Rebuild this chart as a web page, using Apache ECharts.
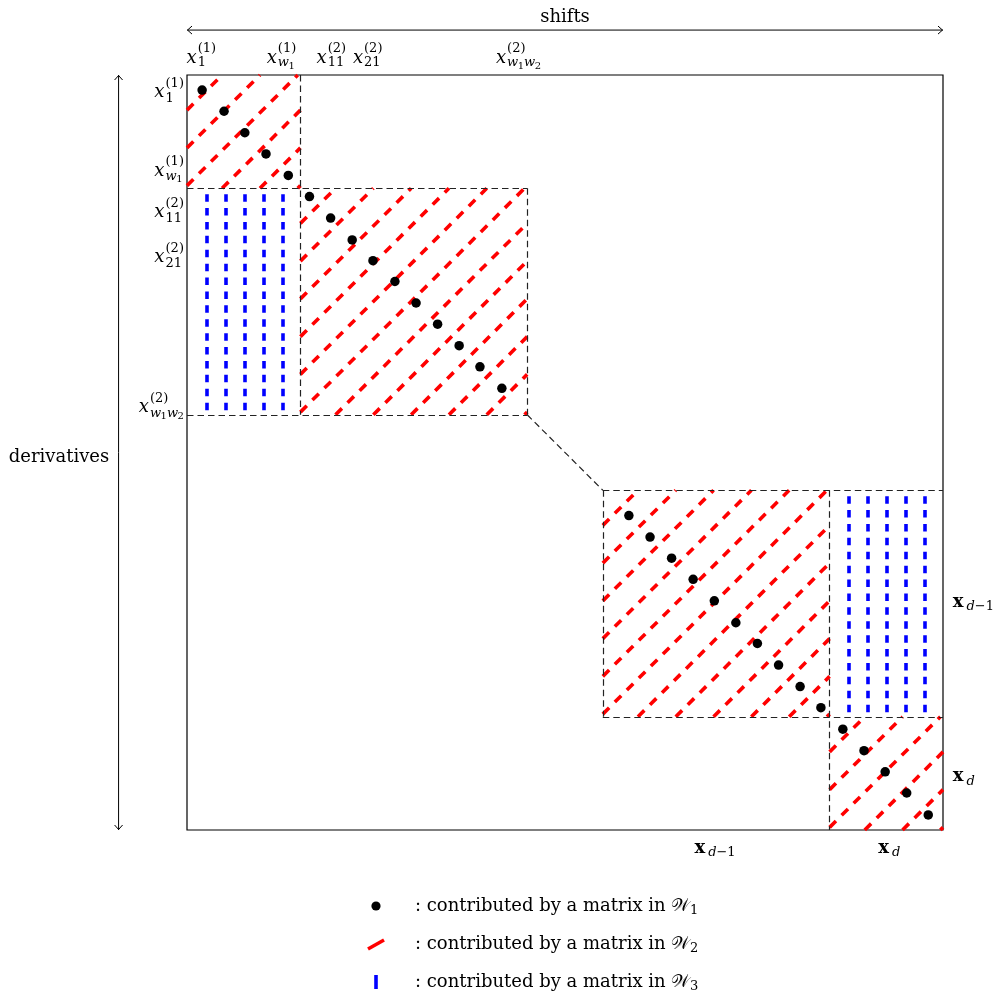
<!DOCTYPE html>
<html><head><meta charset="utf-8">
<script src="https://cdn.jsdelivr.net/npm/echarts@6/dist/echarts.min.js"></script>
<style>html,body{margin:0;padding:0;background:#fff}#c{width:1000px;height:996px}</style>
</head><body><div id="c"></div>
<script>
// ===== data (matrix units: 20 x 20, y up) =====
const dotX = [0.40,0.98,1.53,2.09,2.68,3.24,3.80,4.37,4.92,5.50,6.06,6.63,7.20,7.75,8.33,
              11.69,12.25,12.82,13.39,13.95,14.52,15.09,15.65,16.22,16.77,17.35,17.91,18.47,19.04,19.61];
const dotY = [19.60,19.04,18.47,17.91,17.34,16.78,16.21,15.63,15.08,14.53,13.96,13.40,12.83,12.27,11.70,
              8.33,7.76,7.20,6.64,6.07,5.49,4.94,4.37,3.80,3.24,2.67,2.10,1.54,0.98,0.40];
// red hatched blocks [x0, y0, x1, y1]
const redBlocks = [[0,17,3,20],[3,11,9,17],[11,3,17,9],[17,0,20,3]];
// blue dashed columns
const blueColX = [0.52,1.02,1.52,2.02,2.52,17.51,18.01,18.51,19.01,19.51];
const blueColY0 = [11,11,11,11,11,3,3,3,3,3];
const blueColY1 = [17,17,17,17,17,9,9,9,9,9];
// black dashed block borders
const borderSegs = [
  [[3,20],[3,11]], [[0,17],[9,17]], [[9,17],[9,11]], [[0,11],[9,11]],
  [[9,11],[11,9]],
  [[11,9],[20,9]], [[11,9],[11,3]], [[17,9],[17,0]], [[11,3],[20,3]]
];
// tick labels
const topTickPos = [0.38, 2.50, 3.82, 4.78, 8.77];
const leftTickPos = [19.54, 17.46, 16.36, 15.17, 11.20];
const tickSup = ['(1)','(1)','(2)','(2)','(2)'];
const tickSub = ['1','w1','11','21','w1w2'];
const rightTickPos = [6.04, 1.41];
const bottomTickPos = [13.97, 18.58];
const blockSub = ['d\u22121','d'];
const axisTitles = ['shifts','derivatives'];
const legendTexts = [': contributed by a matrix in \u{1D4B2}', ': contributed by a matrix in \u{1D4B2}', ': contributed by a matrix in \u{1D4B2}'];
const legendSubs = ['1','2','3'];

// ===== text helpers (approximate DejaVu Serif advance widths, em) =====
const FAMILY = 'DejaVu Serif';
const KINDS = {
  base:{fontSize:18, fontStyle:'italic'},
  bold:{fontSize:18, fontWeight:'bold'},
  text:{fontSize:18},
  r:{fontSize:13},
  i:{fontSize:13, fontStyle:'italic'},
  s:{fontSize:10}
};
const ADV = {'(':0.391, ')':0.391, '\u2212':0.838, ' ':0.318, ':':0.337};
const ADV_IT = {'x':0.565, 'w':0.82, 'd':0.64};
const ADV_BD = {'x':0.70};
function tw(t,k){
  const s=KINDS[k]; let w=0;
  for (const ch of t){
    let a;
    if (s.fontWeight==='bold' && ADV_BD[ch]!=null) a=ADV_BD[ch];
    else if (s.fontStyle==='italic' && ADV_IT[ch]!=null) a=ADV_IT[ch];
    else if (/[0-9]/.test(ch)) a=0.636;
    else a=(ADV[ch]!=null?ADV[ch]:0.6);
    w+=a*s.fontSize;
  }
  return w;
}
function textEl(t,k,x,y,align){
  const st=Object.assign({text:t, fontFamily:FAMILY, fill:'#000', align:align||'left', verticalAlign:'middle'}, KINDS[k]);
  return {type:'text', x:x, y:y, silent:true, z2:10, style:st};
}
function parseSub(s){
  const out=[];
  for(let k=0;k<s.length;k++){
    const ch=s[k]; let kind;
    if(/[a-z]/.test(ch)) kind='i';
    else if(/[0-9]/.test(ch) && k>0 && /[a-z]/.test(s[k-1])) kind='s';
    else kind='r';
    out.push([ch,kind]);
  }
  return out;
}
function mathLabel(ax, cy, mode, baseKind, sup, sub, subDy){
  const els=[];
  const wb=tw('x',baseKind);
  const toks=parseSub(sub);
  let wsub=0; toks.forEach(t=>wsub+=tw(t[0],t[1]));
  const wsup=sup?tw(sup,'r'):0;
  const total=wb+1+Math.max(wsup,wsub);
  const left = mode==='center'? ax-total/2 : (mode==='right'? ax-total : ax);
  els.push(textEl('x',baseKind,left,cy));
  if(sup) els.push(textEl(sup,'r',left+wb+1,cy-9));
  let xx=left+wb+1;
  toks.forEach(t=>{
    els.push(textEl(t[0],t[1],xx,cy+(subDy||6)+(t[1]==='s'?3:0)));
    xx+=tw(t[0],t[1]);
  });
  return els;
}

// label specs anchored in matrix coordinates
const labelAnchors = [], labelSpecs = [];
topTickPos.forEach((v,i)=>{ labelAnchors.push([v,20.45]); labelSpecs.push({mode:'center',base:'base',sup:tickSup[i],sub:tickSub[i],dy:5}); });
leftTickPos.forEach((v,i)=>{ labelAnchors.push([-0.08,v]); labelSpecs.push({mode:'right',base:'base',sup:tickSup[i],sub:tickSub[i],dy:6}); });
rightTickPos.forEach((v,i)=>{ labelAnchors.push([20.26,v]); labelSpecs.push({mode:'left',base:'bold',sup:null,sub:blockSub[i],dy:5}); });
bottomTickPos.forEach((v,i)=>{ labelAnchors.push([v,-0.48]); labelSpecs.push({mode:'center',base:'bold',sup:null,sub:blockSub[i],dy:5}); });
labelAnchors.push([10,21.52]); labelSpecs.push({plain:axisTitles[0]});
labelAnchors.push([-3.386,9.868]); labelSpecs.push({plain:axisTitles[1]});

// ===== chart =====
const chart = echarts.init(document.getElementById('c'), null, {renderer:'canvas'});
const HATCH_OFFSET = -0.07;

chart.setOption({
  animation: false,
  textStyle: {fontFamily: FAMILY},
  grid: {left:187, top:75, width:756, height:755, show:true, borderColor:'#000', borderWidth:1.2, backgroundColor:'rgba(0,0,0,0)'},
  xAxis: {type:'value', min:0, max:20, show:false},
  yAxis: {type:'value', min:0, max:20, show:false},
  series: [
    {
      type:'custom', name:'W2', coordinateSystem:'cartesian2d', silent:true, z:2, clip:false,
      data: redBlocks, encode:{x:[0,2], y:[1,3]},
      renderItem: function(params, api){
        const x0=api.value(0), y0=api.value(1), x1=api.value(2), y1=api.value(3);
        const children=[];
        for (let n=Math.floor(x0-y1)-1; n<=Math.ceil(x1-y0)+1; n++){
          const c=n+HATCH_OFFSET;
          const ya=Math.max(y0, x0-c), yb=Math.min(y1, x1-c);
          if (yb-ya < 0.03) continue;
          const p=api.coord([ya+c, ya]), q=api.coord([yb+c, yb]);
          children.push({type:'line', shape:{x1:p[0],y1:p[1],x2:q[0],y2:q[1]},
            style:{stroke:'#ff0000', lineWidth:3.6, lineDash:[9,8], lineCap:'butt'}});
        }
        return {type:'group', children};
      }
    },
    {
      type:'lines', name:'W3', coordinateSystem:'cartesian2d', silent:true, z:2,
      data: blueColX.map((x,i)=>({coords:[[x, blueColY1[i]],[x, blueColY0[i]]]})),
      lineStyle:{color:'#0000ff', width:3.6, type:[7.5,6.4], dashOffset:8, opacity:1, curveness:0}
    },
    {
      type:'lines', name:'borders', coordinateSystem:'cartesian2d', silent:true, z:3,
      data: borderSegs.map(s=>({coords:s})),
      lineStyle:{color:'#222', width:1.2, type:[6.5,4], opacity:1, curveness:0}
    },
    {
      type:'scatter', name:'W1', silent:true, z:5,
      data: dotX.map((x,i)=>[x, dotY[i]]),
      symbol:'circle', symbolSize:9.5, itemStyle:{color:'#000', opacity:1}
    },
    {
      type:'custom', name:'labels', coordinateSystem:'cartesian2d', silent:true, z:10, clip:false,
      data: labelAnchors, encode:{x:0, y:1},
      renderItem: function(params, api){
        const s=labelSpecs[params.dataIndex];
        const p=api.coord([api.value(0), api.value(1)]);
        const children = s.plain ? [textEl(s.plain,'text',p[0],p[1],'center')]
                                 : mathLabel(p[0],p[1],s.mode,s.base,s.sup,s.sub,s.dy);
        return {type:'group', children};
      }
    }
  ]
});

const P = (x,y)=>chart.convertToPixel({gridIndex:0},[x,y]);
const g=[];
// axis arrows
const a0=P(0,21.19), a1=P(20,21.19);
g.push({type:'line', silent:true, shape:{x1:a0[0],y1:a0[1],x2:a1[0],y2:a1[1]}, style:{stroke:'#000',lineWidth:1}});
g.push({type:'polyline', silent:true, shape:{points:[[a0[0]+5,a0[1]-4],[a0[0]+0.5,a0[1]],[a0[0]+5,a0[1]+4]]}, style:{stroke:'#000',lineWidth:1,fill:null}});
g.push({type:'polyline', silent:true, shape:{points:[[a1[0]-5,a1[1]-4],[a1[0]-0.5,a1[1]],[a1[0]-5,a1[1]+4]]}, style:{stroke:'#000',lineWidth:1,fill:null}});
const b0=P(-1.81,20), b1=P(-1.81,0);
g.push({type:'line', silent:true, shape:{x1:b0[0],y1:b0[1],x2:b1[0],y2:b1[1]}, style:{stroke:'#000',lineWidth:1}});
g.push({type:'polyline', silent:true, shape:{points:[[b0[0]-4,b0[1]+5],[b0[0],b0[1]+0.5],[b0[0]+4,b0[1]+5]]}, style:{stroke:'#000',lineWidth:1,fill:null}});
g.push({type:'polyline', silent:true, shape:{points:[[b1[0]-4,b1[1]-5],[b1[0],b1[1]-0.5],[b1[0]+4,b1[1]-5]]}, style:{stroke:'#000',lineWidth:1,fill:null}});

// legend
const LX=376, LY=[906,944,982], TX=415, SUBX=690;
g.push({type:'circle', silent:true, shape:{cx:LX, cy:LY[0], r:4.6}, style:{fill:'#000'}});
g.push({type:'line', silent:true, shape:{x1:LX-8,y1:LY[1]+5,x2:LX+8,y2:LY[1]-4}, style:{stroke:'#ff0000',lineWidth:3.6}});
g.push({type:'line', silent:true, shape:{x1:LX,y1:LY[2]-7,x2:LX,y2:LY[2]+7}, style:{stroke:'#0000ff',lineWidth:3.6}});
legendTexts.forEach((t,i)=>{
  g.push(textEl(t,'text',TX,LY[i]));
  g.push(textEl(legendSubs[i],'r',SUBX,LY[i]+5));
});
chart.setOption({graphic: g});
</script></body></html>
